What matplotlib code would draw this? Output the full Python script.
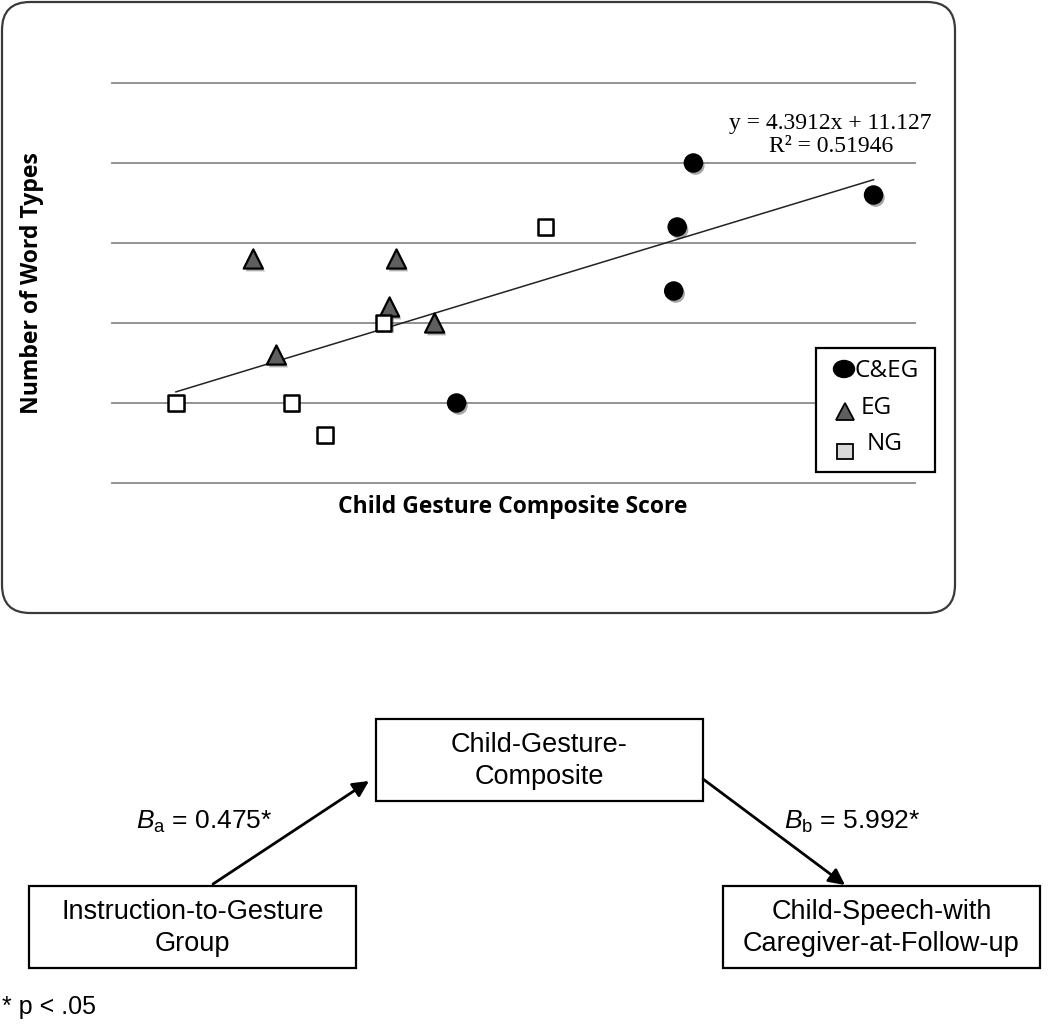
import matplotlib
matplotlib.use("Agg")
import matplotlib.pyplot as plt
import matplotlib.patheffects as pe
from matplotlib.patches import FancyBboxPatch, Rectangle, Ellipse, Polygon

# scatter data (no tick labels in the original)
cg_x = [4.54, 6.10, 4.40, 4.37, 2.49]
cg_y = [40, 36, 32, 24, 10]
eg_x = [0.73, 1.97, 1.91, 2.30, 0.93]
eg_y = [28, 28, 22, 20, 16]
ng_x = [0.06, 1.06, 1.35, 3.26, 1.86]
ng_y = [10, 10, 6, 32, 20]
grid_y = [0, 10, 20, 30, 40, 50]
slope, intercept, r2 = 4.3912, 11.127, 0.51946

plt.rcParams['mathtext.fontset'] = 'custom'
plt.rcParams['mathtext.rm'] = 'Liberation Sans'
plt.rcParams['mathtext.it'] = 'Liberation Sans:italic'

W, H = 1050, 1024
fig = plt.figure(figsize=(W / 100, H / 100), dpi=100)

# scatter axes placed in pixel terms
L, R, T, B = 112, 915, 83, 483
ax = fig.add_axes([L / W, 1 - B / H, (R - L) / W, (B - T) / H])
ax.set_facecolor('none')
ax.set_xlim((L - 169) / 115.5, (R - 169) / 115.5)
ax.set_ylim(0, 50)
for s in ax.spines.values():
    s.set_visible(False)
ax.set_xticks([])
ax.set_yticks([])
for g in grid_y:
    ax.axhline(g, color='#8a8a8a', lw=1.3, zorder=1, clip_on=False)

allx = cg_x + eg_x + ng_x
x0, x1 = min(allx), max(allx)
ax.plot([x0, x1], [slope * x0 + intercept, slope * x1 + intercept],
        color='#222222', lw=1.1, zorder=2)

shadow = [pe.SimplePatchShadow(offset=(1.5, -2), alpha=0.35), pe.Normal()]
ax.scatter(cg_x, cg_y, s=170, marker='o', color='black', zorder=3,
           path_effects=shadow, clip_on=False)
ax.scatter(eg_x, eg_y, s=190, marker='^', facecolor='#5f5f5f',
           edgecolor='black', linewidth=1.6, zorder=3, path_effects=shadow, clip_on=False)
ax.scatter(ng_x, ng_y, s=120, marker='s', facecolor='white',
           edgecolor='black', linewidth=1.8, zorder=3, path_effects=shadow, clip_on=False)

# overlay in pixel coordinates
ov = fig.add_axes([0, 0, 1, 1])
ov.set_xlim(0, W)
ov.set_ylim(H, 0)
ov.axis('off')
ov.patch.set_visible(False)

ov.add_patch(FancyBboxPatch((2, 2), 953, 611, boxstyle="round,pad=0,rounding_size=28",
                            fill=False, edgecolor='#3a3a3a', lw=1.6))

ov.text(32, 283, 'Number of Word Types', rotation=90, ha='center', va='center',
        fontsize=16.6, fontweight='bold', family='Open Sans')
ov.text(513, 507, 'Child Gesture Composite Score', ha='center', va='center',
        fontsize=16.5, fontweight='bold', family='Open Sans')

ov.text(830, 123, f'y = {slope}x + {intercept}', ha='center', va='center',
        fontsize=17, family='Liberation Serif')
ov.text(831, 147, f'R² = {r2}', ha='center', va='center',
        fontsize=17, family='Liberation Serif')

# legend
ov.add_patch(Rectangle((816, 348), 119, 124, facecolor='white', edgecolor='black', lw=1.6, zorder=5))
ov.add_patch(Ellipse((844, 369), 21, 17, color='black', zorder=6))
ov.add_patch(Polygon([[836, 420], [854, 420], [845, 403]], closed=True,
                     facecolor='#5f5f5f', edgecolor='black', lw=1.3, zorder=6))
ov.add_patch(Rectangle((837, 444), 16, 15, facecolor='#d9d9d9', edgecolor='black', lw=1.3, zorder=6))
ov.text(855, 371, 'C&EG', ha='left', va='center', fontsize=17.5, family='Open Sans', zorder=7)
ov.text(861, 408, 'EG', ha='left', va='center', fontsize=17.5, family='Open Sans', zorder=7)
ov.text(867, 444, 'NG', ha='left', va='center', fontsize=17.5, family='Open Sans', zorder=7)

# mediation diagram
boxes = [
    ((29, 886, 327, 82), 'Instruction-to-Gesture\nGroup'),
    ((376, 719, 327, 82), 'Child-Gesture-\nComposite'),
    ((723, 886, 317, 82), 'Child-Speech-with\nCaregiver-at-Follow-up'),
]
for (bx, by, bw, bh), label in boxes:
    ov.add_patch(Rectangle((bx, by), bw, bh, fill=False, edgecolor='black', lw=1.6))
    ov.text(bx + bw / 2, by + bh / 2 + 1, label, ha='center', va='center',
            fontsize=19.5, family='Liberation Sans', linespacing=1.3)

arrow = dict(arrowstyle='-|>', lw=2, color='black', mutation_scale=24, shrinkA=0, shrinkB=0)
ov.annotate('', xy=(369, 781), xytext=(213, 884), arrowprops=arrow)
ov.annotate('', xy=(845, 885), xytext=(703, 779), arrowprops=arrow)

ov.text(204, 822, r'$B_{\mathrm{a}}$ = 0.475*', ha='center', va='center',
        fontsize=19, family='Liberation Sans')
ov.text(852, 822, r'$B_{\mathrm{b}}$ = 5.992*', ha='center', va='center',
        fontsize=19, family='Liberation Sans')
ov.text(2, 1007, '* p < .05', ha='left', va='center', fontsize=18, family='Liberation Sans')

fig.savefig('out.png', dpi=100)
